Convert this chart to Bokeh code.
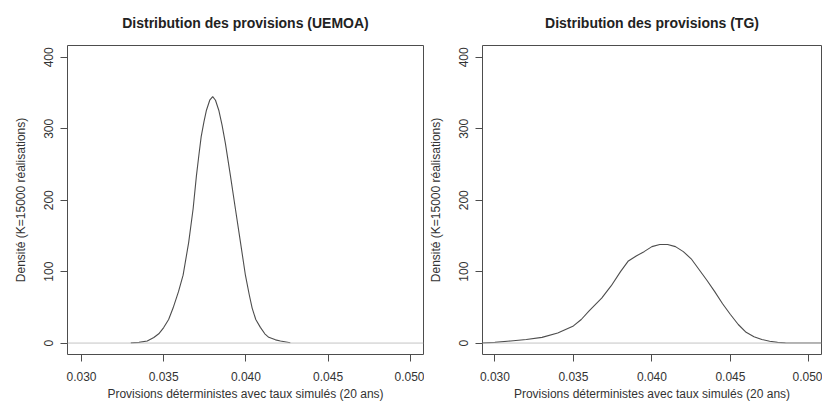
from bokeh.plotting import figure
from bokeh.layouts import row
from bokeh.models import Range1d, FixedTicker, Span, PrintfTickFormatter
from bokeh.embed import file_html
from bokeh.resources import INLINE

# ---- data ----
uemoa_x = [0.0330, 0.0335, 0.0340, 0.0344, 0.0347, 0.0350, 0.03530, 0.03557, 0.03590, 0.03618,
           0.03652, 0.03679, 0.03699, 0.03715, 0.03728, 0.03745, 0.0376, 0.0378, 0.03798,
           0.03815, 0.03835, 0.03855, 0.03875, 0.03906, 0.03936, 0.03967, 0.03997,
           0.04020, 0.04038, 0.04060, 0.04088, 0.04115, 0.04139, 0.0418, 0.0421, 0.0427]
uemoa_y = [0.3, 1.0, 3.0, 7.8, 13.0, 21.7, 33.0, 49.0, 72.0, 95.0,
           141.0, 188.0, 234.0, 265.0, 289.0, 310.0, 326.0, 340.0, 345.0,
           340.0, 326.0, 305.0, 280.0, 234.0, 188.0, 141.0, 95.0,
           68.0, 49.0, 33.0, 22.0, 13.0, 8.0, 4.5, 3.0, 0.5]

tg_x = [0.0285, 0.0293, 0.0300, 0.0310, 0.0320, 0.0330, 0.0340, 0.0350, 0.0355, 0.0360,
        0.0368, 0.0374, 0.0380, 0.0385, 0.0390, 0.0395, 0.0400, 0.0405, 0.0410, 0.0415,
        0.0420, 0.0425, 0.0430, 0.0435, 0.0440, 0.0445, 0.0450, 0.0455, 0.0460, 0.0465,
        0.0470, 0.0475, 0.0480, 0.0485, 0.0490, 0.0500, 0.0515]
tg_y = [0.0, 0.3, 1.0, 3.0, 5.0, 8.0, 14.0, 24.0, 33.0, 45.0,
        63.0, 80.0, 100.0, 115.0, 122.0, 128.0, 135.0, 138.0, 138.0, 135.0,
        128.0, 118.0, 103.0, 88.0, 72.0, 55.0, 40.0, 26.0, 15.0, 9.0,
        5.0, 2.5, 1.0, 0.3, 0.1, 0.0, 0.0]

x_ticks = [0.030, 0.035, 0.040, 0.045, 0.050]
y_ticks = [0, 100, 200, 300, 400]
titles = ["Distribution des provisions (UEMOA)", "Distribution des provisions (TG)"]
x_label = "Provisions déterministes avec taux simulés (20 ans)"
y_label = "Densité (K=15000 réalisations)"

FONT = "Liberation Sans"
TXT = "#333333"
LINE = "#4d4d4d"


def make_panel(xs, ys, title, x_range, width, border_left, border_right):
    p = figure(width=width, height=403, output_backend="svg", toolbar_location=None,
               x_range=x_range, y_range=Range1d(-16, 416.6),
               min_border_left=border_left, min_border_right=border_right,
               min_border_top=45, min_border_bottom=10)
    p.title.text = title
    p.title.align = "center"
    p.title.vertical_align = "top"
    p.title.text_font = FONT
    p.title.text_font_size = "14px"
    p.title.text_font_style = "bold"
    p.title.text_color = "#222222"
    p.title.standoff = 25
    p.xgrid.visible = False
    p.ygrid.visible = False
    p.outline_line_color = LINE
    p.outline_line_width = 1
    p.background_fill_color = "white"
    p.border_fill_color = "white"

    p.add_layout(Span(location=0, dimension="width", line_color="#c4c4c4", line_width=1))
    p.line(xs, ys, line_color=LINE, line_width=1.1)

    for ax in (p.xaxis[0], p.yaxis[0]):
        ax.axis_line_color = None
        ax.major_tick_line_color = LINE
        ax.major_tick_out = 7
        ax.major_tick_in = 0
        ax.minor_tick_line_color = None
        ax.major_label_text_font = FONT
        ax.major_label_text_font_size = "12px"
        ax.major_label_text_color = TXT
        ax.axis_label_text_font = FONT
        ax.axis_label_text_font_size = "12px"
        ax.axis_label_text_color = TXT
        ax.axis_label_text_font_style = "normal"

    p.xaxis.ticker = FixedTicker(ticks=x_ticks)
    p.xaxis.formatter = PrintfTickFormatter(format="%.3f")
    p.xaxis.axis_label = x_label
    p.xaxis.major_label_standoff = 10
    p.xaxis.axis_label_standoff = 3

    p.yaxis.ticker = FixedTicker(ticks=y_ticks)
    p.yaxis.major_label_orientation = "vertical"
    p.yaxis.axis_label = y_label
    p.yaxis.major_label_standoff = 7
    p.yaxis.axis_label_standoff = 14
    return p


p1 = make_panel(uemoa_x, uemoa_y, titles[0], Range1d(0.02915, 0.0508), 424, 67, 1)
p2 = make_panel(tg_x, tg_y, titles[1], Range1d(0.02921, 0.0508), 398, 58, 1)

layout = row(p1, p2, spacing=0)
open("out.html", "w").write(file_html(layout, INLINE))
